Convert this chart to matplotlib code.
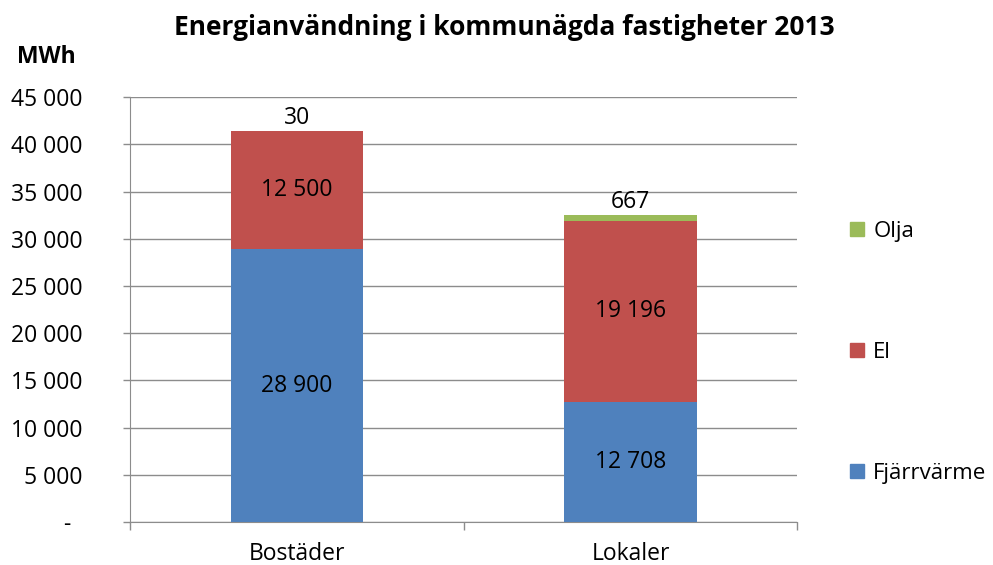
import matplotlib.pyplot as plt
from matplotlib.patches import Patch

plt.rcParams['font.family'] = ['Open Sans', 'DejaVu Sans']

categories = ['Bostäder', 'Lokaler']
fjarrvarme = [28900, 12708]
el = [12500, 19196]
olja = [30, 667]
colors = {'Fjärrvärme': '#4F81BD', 'El': '#C0504D', 'Olja': '#9BBB59'}

FS = 16.5


def fmt(v):
    return f'{v:,}'.replace(',', ' ')


fig = plt.figure(figsize=(9.93, 5.65), dpi=100)
ax = fig.add_axes([0.131, 0.076, 0.672, 0.752])

x = list(range(len(categories)))
w = 0.396
ax.bar(x, fjarrvarme, w, color=colors['Fjärrvärme'], zorder=3)
ax.bar(x, el, w, bottom=fjarrvarme, color=colors['El'], zorder=3)
bottom3 = [a + b for a, b in zip(fjarrvarme, el)]
ax.bar(x, olja, w, bottom=bottom3, color=colors['Olja'], zorder=3)

for i in x:
    ax.text(i, fjarrvarme[i] / 2, fmt(fjarrvarme[i]), ha='center', va='center', fontsize=FS)
    ax.text(i, fjarrvarme[i] + el[i] / 2, fmt(el[i]), ha='center', va='center', fontsize=FS)
    ax.text(i, bottom3[i] + olja[i] + 100, fmt(olja[i]), ha='center', va='bottom', fontsize=FS)

ax.set_xlim(-0.5, 1.5)
ax.set_ylim(0, 45000)
yt = list(range(0, 45001, 5000))
ax.set_yticks(yt)
ax.set_yticklabels(['-  '] + [fmt(v) for v in yt[1:]], fontsize=FS)
ax.yaxis.grid(True, color='#8c8c8c', lw=1, zorder=0)

ax.set_xticks([-0.5, 0.5, 1.5])
ax.set_xticklabels([])
ax.set_xticks(x, minor=True)
ax.set_xticklabels(categories, minor=True, fontsize=FS)
ax.tick_params(axis='x', which='minor', length=0, pad=14)
ax.tick_params(axis='x', which='major', length=6, color='#8c8c8c', width=1)
ax.tick_params(axis='y', length=5, color='#8c8c8c', width=1, pad=29)

for s in ['top', 'right']:
    ax.spines[s].set_visible(False)
for s in ['left', 'bottom']:
    ax.spines[s].set_color('#8c8c8c')

fig.text(0.508, 0.952, 'Energianvändning i kommunägda fastigheter 2013',
         ha='center', va='center', fontsize=19, fontweight='bold')
fig.text(0.047, 0.899, 'MWh', ha='center', va='center', fontsize=16.5, fontweight='bold')

handles = [Patch(color=colors[k]) for k in ['Olja', 'El', 'Fjärrvärme']]
fig.legend(handles, ['Olja', 'El', 'Fjärrvärme'], loc='upper left',
           bbox_to_anchor=(0.847, 0.625), frameon=False, fontsize=16,
           handlelength=0.65, handleheight=0.65, handletextpad=0.4,
           labelspacing=4.5, borderaxespad=0)

fig.savefig('out.png', dpi=100)
